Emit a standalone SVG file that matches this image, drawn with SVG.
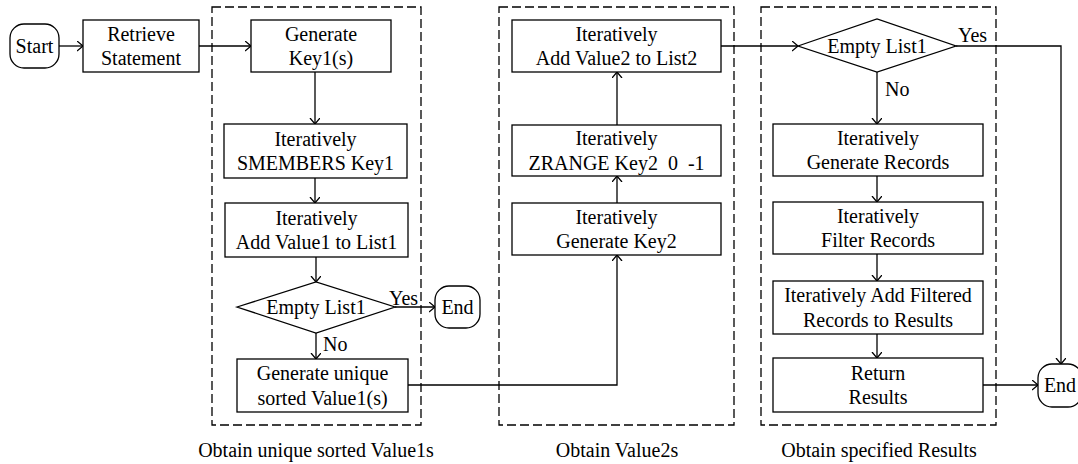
<svg xmlns="http://www.w3.org/2000/svg" width="1078" height="464" viewBox="0 0 1078 464">
<defs>
<marker id="a" markerUnits="userSpaceOnUse" markerWidth="10" markerHeight="12" refX="6" refY="5" orient="auto">
<path d="M0,0 L6,5 L0,10" fill="none" stroke="#000" stroke-width="1.3"/>
</marker>
</defs>
<g id="groups" fill="none" stroke="#000" stroke-width="1.3" stroke-dasharray="9 4">
<rect x="212" y="7" width="209" height="418"/>
<rect x="499" y="7" width="235" height="418"/>
<rect x="761" y="7" width="235" height="418"/>
</g>
<g id="captions" font-family="Liberation Serif" font-size="20" text-anchor="middle" fill="#000">
<text x="316" y="457">Obtain unique sorted Value1s</text>
<text x="617" y="457">Obtain Value2s</text>
<text x="879" y="457">Obtain specified Results</text>
</g>
<g id="connectors" fill="none" stroke="#000" stroke-width="1.3" marker-end="url(#a)">
<path d="M59,46 H83"/>
<path d="M199,46 H251"/>
<path d="M315,72 V124"/>
<path d="M315,178 V203"/>
<path d="M316,257 V282"/>
<path d="M395,307 H435"/>
<path d="M316,333 V359"/>
<path d="M408,385 H617 V255"/>
<path d="M617,203 V176"/>
<path d="M617,125 V72"/>
<path d="M721,46 H798"/>
<path d="M956,46 H1061 V364"/>
<path d="M877,72 V124"/>
<path d="M877,176 V202"/>
<path d="M877,254 V281"/>
<path d="M877,334 V358"/>
<path d="M983,385 H1038"/>
</g>
<g id="connector-labels" font-family="Liberation Serif" font-size="20" fill="#000">
<text x="389" y="305">Yes</text>
<text x="323" y="351">No</text>
<text x="958" y="42">Yes</text>
<text x="885" y="96">No</text>
</g>
<g id="nodes" font-family="Liberation Serif" font-size="20" text-anchor="middle">
<g id="start"><rect fill="#fff" stroke="#000" stroke-width="1.3" x="10" y="24" width="49" height="44" rx="14"/><text x="34.5" y="52.5">Start</text></g>
<g id="retrieve"><rect fill="#fff" stroke="#000" stroke-width="1.3" x="83" y="20" width="116" height="52"/><text x="141" y="40.5">Retrieve</text><text x="141" y="65">Statement</text></g>
<g id="genkey1"><rect fill="#fff" stroke="#000" stroke-width="1.3" x="251" y="20" width="140" height="52"/><text x="321" y="40.5">Generate</text><text x="321" y="65">Key1(s)</text></g>
<g id="smembers"><rect fill="#fff" stroke="#000" stroke-width="1.3" x="224" y="124" width="183" height="54"/><text x="315.5" y="145.5">Iteratively</text><text x="315.5" y="170">SMEMBERS Key1</text></g>
<g id="addvalue1"><rect fill="#fff" stroke="#000" stroke-width="1.3" x="225" y="203" width="183" height="54"/><text x="316.5" y="224.5">Iteratively</text><text x="316.5" y="249">Add Value1 to List1</text></g>
<g id="empty1"><polygon fill="#fff" stroke="#000" stroke-width="1.3" points="237,307 316,282 395,307 316,333"/><text x="316" y="313.5">Empty List1</text></g>
<g id="end1"><rect fill="#fff" stroke="#000" stroke-width="1.3" x="435" y="286" width="45" height="42" rx="14"/><text x="457.5" y="313.5">End</text></g>
<g id="genunique"><rect fill="#fff" stroke="#000" stroke-width="1.3" x="237" y="359" width="171" height="53"/><text x="322.5" y="380">Generate unique</text><text x="322.5" y="404.5">sorted Value1(s)</text></g>
<g id="addvalue2"><rect fill="#fff" stroke="#000" stroke-width="1.3" x="512" y="20" width="209" height="52"/><text x="616.5" y="40.5">Iteratively</text><text x="616.5" y="65">Add Value2 to List2</text></g>
<g id="zrange"><rect fill="#fff" stroke="#000" stroke-width="1.3" x="512" y="125" width="209" height="51"/><text x="616.5" y="145">Iteratively</text><text x="616.5" y="169.5" xml:space="preserve">ZRANGE Key2  0  -1</text></g>
<g id="genkey2"><rect fill="#fff" stroke="#000" stroke-width="1.3" x="512" y="203" width="209" height="52"/><text x="616.5" y="223.5">Iteratively</text><text x="616.5" y="248">Generate Key2</text></g>
<g id="empty2"><polygon fill="#fff" stroke="#000" stroke-width="1.3" points="798,46 877,19 956,46 877,72"/><text x="877" y="52.5">Empty List1</text></g>
<g id="genrecords"><rect fill="#fff" stroke="#000" stroke-width="1.3" x="773" y="124" width="210" height="52"/><text x="878" y="144.5">Iteratively</text><text x="878" y="169">Generate Records</text></g>
<g id="filter"><rect fill="#fff" stroke="#000" stroke-width="1.3" x="773" y="202" width="210" height="52"/><text x="878" y="222.5">Iteratively</text><text x="878" y="247">Filter Records</text></g>
<g id="addfiltered"><rect fill="#fff" stroke="#000" stroke-width="1.3" x="773" y="281" width="210" height="53"/><text x="878" y="302">Iteratively Add Filtered</text><text x="878" y="326.5">Records to Results</text></g>
<g id="return"><rect fill="#fff" stroke="#000" stroke-width="1.3" x="773" y="358" width="210" height="54"/><text x="878" y="379.5">Return</text><text x="878" y="404">Results</text></g>
<g id="end2"><rect fill="#fff" stroke="#000" stroke-width="1.3" x="1038" y="364" width="44" height="43" rx="14"/><text x="1060" y="392">End</text></g>
</g>
</svg>
